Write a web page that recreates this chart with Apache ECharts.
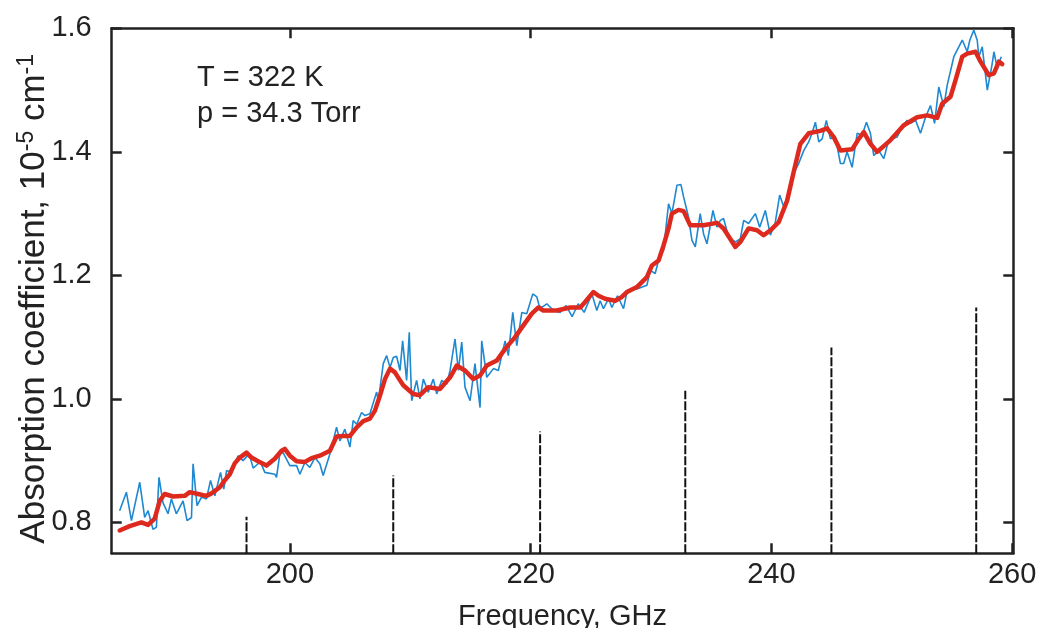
<!DOCTYPE html>
<html><head><meta charset="utf-8">
<script src="https://cdn.jsdelivr.net/npm/echarts@6/dist/echarts.min.js"></script>
<style>html,body{margin:0;padding:0;background:#fff}#c{width:1039px;height:628px}</style>
</head><body><div id="c"></div>
<script>
// Measured spectrum (blue, noisy): [frequency GHz, absorption 1e-5 cm^-1]
const measured = [
[185.86,0.819],[186.42,0.849],[186.84,0.803],[187.53,0.865],[187.94,0.808],[188.22,0.819],[188.63,0.789],[188.91,0.792],
[189.13,0.873],[189.46,0.832],[189.88,0.814],[190.16,0.838],[190.57,0.814],[191.13,0.835],[191.46,0.803],[191.83,0.808],
[191.96,0.895],[192.29,0.827],[192.66,0.841],[193.07,0.838],[193.41,0.868],[193.77,0.843],[194.24,0.881],[194.51,0.854],
[194.74,0.884],[195.15,0.881],[195.70,0.908],[196.11,0.900],[196.62,0.911],[196.95,0.888],[197.36,0.895],[197.51,0.900],
[197.92,0.881],[198.75,0.878],[198.89,0.873],[199.17,0.911],[199.44,0.913],[200.00,0.892],[200.56,0.892],[200.83,0.878],
[201.25,0.897],[201.66,0.889],[202.08,0.905],[202.49,0.895],[202.77,0.876],[203.33,0.911],[203.88,0.954],[204.16,0.932],
[204.57,0.951],[204.99,0.922],[205.26,0.965],[205.55,0.959],[205.96,0.978],[206.24,0.973],[206.65,0.976],[207.21,1.011],
[207.35,0.997],[207.76,1.057],[208.04,1.070],[208.32,1.051],[208.59,1.067],[208.87,1.069],[209.15,1.046],[209.37,1.094],
[209.70,1.030],[209.92,1.108],[210.12,0.997],[210.53,1.030],[210.81,1.000],[211.09,1.032],[211.50,1.011],[211.92,1.032],
[212.20,1.008],[212.62,1.030],[213.03,1.024],[213.31,1.046],[213.72,1.097],[214.00,1.046],[214.28,1.092],[214.55,1.019],
[214.97,0.997],[215.38,1.057],[215.80,0.986],[215.94,1.094],[216.36,1.035],[216.91,1.049],[217.32,1.046],[217.88,1.094],
[218.15,1.070],[218.52,1.140],[218.85,1.086],[219.27,1.140],[219.68,1.138],[220.18,1.170],[220.52,1.165],[220.71,1.151],
[220.93,1.148],[221.35,1.154],[221.90,1.143],[222.45,1.140],[222.95,1.151],[223.45,1.133],[223.95,1.154],[224.45,1.140],
[225.09,1.170],[225.50,1.143],[225.78,1.159],[226.05,1.146],[226.47,1.162],[226.75,1.148],[227.22,1.167],[227.72,1.146],
[228.00,1.173],[228.27,1.176],[228.83,1.178],[229.66,1.184],[229.94,1.208],[230.35,1.203],[230.77,1.235],[231.04,1.240],
[231.46,1.316],[231.74,1.300],[232.16,1.346],[232.49,1.347],[232.71,1.327],[233.12,1.294],[233.40,1.257],[233.68,1.246],
[234.09,1.300],[234.37,1.267],[234.65,1.251],[235.15,1.305],[235.48,1.278],[235.76,1.289],[236.03,1.292],[236.45,1.262],
[237.01,1.254],[237.42,1.259],[237.70,1.289],[238.11,1.284],[238.67,1.300],[239.03,1.278],[239.50,1.305],[239.92,1.265],
[240.33,1.286],[240.69,1.330],[241.03,1.311],[241.44,1.332],[241.85,1.365],[242.27,1.381],[242.69,1.402],[243.10,1.416],
[243.38,1.430],[243.66,1.448],[243.94,1.416],[244.22,1.421],[244.57,1.451],[244.91,1.421],[245.32,1.424],[245.74,1.381],
[246.01,1.381],[246.29,1.400],[246.71,1.375],[247.13,1.430],[247.54,1.427],[247.90,1.448],[248.23,1.430],[248.51,1.394],
[248.92,1.402],[249.34,1.389],[249.75,1.419],[250.45,1.424],[250.87,1.440],[251.28,1.451],[251.56,1.446],[251.98,1.451],
[252.39,1.430],[252.81,1.456],[253.22,1.475],[253.56,1.446],[253.91,1.505],[254.33,1.473],[254.61,1.508],[255.16,1.554],
[255.86,1.581],[256.27,1.562],[256.49,1.581],[256.82,1.597],[257.10,1.581],[257.24,1.554],[257.52,1.570],[257.94,1.500],
[258.35,1.543],[258.49,1.562],[258.77,1.535],[259.10,1.554]
];
// Smoothed spectrum (red)
const smoothed = [
[185.86,0.787],[186.69,0.794],[187.67,0.800],[188.22,0.796],[188.77,0.806],[189.19,0.835],[189.60,0.846],[190.30,0.842],
[191.27,0.843],[191.68,0.849],[192.37,0.846],[193.07,0.843],[193.49,0.847],[194.18,0.857],[194.59,0.868],[195.01,0.878],
[195.43,0.896],[195.84,0.905],[196.40,0.913],[196.81,0.905],[197.36,0.899],[198.06,0.892],[198.75,0.903],[199.31,0.916],
[199.58,0.919],[200.00,0.908],[200.56,0.899],[201.25,0.898],[201.80,0.904],[202.49,0.908],[203.33,0.916],[203.88,0.939],
[204.43,0.940],[204.99,0.940],[205.55,0.954],[206.10,0.964],[206.65,0.968],[207.07,0.981],[207.48,1.005],[207.90,1.032],
[208.32,1.049],[208.73,1.043],[209.15,1.030],[209.42,1.022],[210.25,1.008],[210.81,1.006],[211.50,1.019],[212.47,1.016],
[213.31,1.035],[213.86,1.054],[214.55,1.046],[215.24,1.032],[215.80,1.038],[216.36,1.054],[217.19,1.062],[217.88,1.081],
[218.71,1.100],[219.40,1.119],[220.10,1.138],[220.65,1.148],[221.06,1.143],[222.18,1.143],[223.28,1.148],[224.12,1.148],
[224.53,1.157],[225.22,1.173],[225.64,1.167],[226.19,1.162],[227.03,1.159],[227.58,1.165],[228.00,1.173],[228.83,1.181],
[229.66,1.197],[230.08,1.216],[230.63,1.224],[231.04,1.248],[231.46,1.276],[231.74,1.300],[232.29,1.306],[232.71,1.304],
[233.26,1.281],[234.37,1.281],[235.48,1.285],[236.03,1.276],[236.59,1.259],[237.01,1.246],[237.42,1.254],[238.11,1.276],
[238.81,1.273],[239.36,1.265],[239.92,1.273],[240.61,1.286],[241.31,1.321],[241.85,1.367],[242.41,1.413],[243.10,1.430],
[244.07,1.434],[244.63,1.438],[245.18,1.424],[245.74,1.402],[246.71,1.404],[247.26,1.421],[247.68,1.432],[248.23,1.413],
[248.79,1.400],[249.90,1.419],[251.00,1.443],[252.11,1.456],[252.95,1.459],[253.78,1.455],[254.19,1.478],[254.88,1.489],
[255.30,1.516],[255.86,1.554],[256.27,1.559],[256.96,1.562],[257.38,1.546],[258.07,1.524],[258.49,1.527],[258.90,1.546],
[259.18,1.542]
];
// Line positions (dashed sticks) and their relative heights
const lineFreqs = [196.40, 208.59, 220.79, 232.85, 244.99, 257.02];
const lineHeights = [0.809, 0.876, 0.947, 1.013, 1.083, 1.148];
const xTicks = [200, 220, 240, 260];
const yTicks = [0.8, 1.0, 1.2, 1.4, 1.6];
const xMin = 185.2, xMax = 260.1, yMin = 0.75, yMax = 1.6;

const FONT = 'Liberation Sans, Arial, sans-serif';
const TXT = '#222';
const AX = '#222';

const chart = echarts.init(document.getElementById('c'), null, {renderer: 'canvas'});

const stickSeries = lineFreqs.map((f, i) => ({
  type: 'line', xAxisIndex: 0, yAxisIndex: 0, silent: true, symbol: 'none',
  data: [[f, yMin], [f, lineHeights[i]]],
  lineStyle: {color: '#111', width: 2, type: [9, 2]}, z: 2
}));

chart.setOption({
  animation: false,
  backgroundColor: '#fff',
  grid: {left: 111.7, right: 25.7, top: 28.3, bottom: 74.7, containLabel: false, outerBoundsMode: 'none'},
  xAxis: [{
    type: 'value', min: xMin, max: xMax, position: 'bottom',
    name: 'Frequency, GHz', nameLocation: 'middle', nameGap: 49, nameMoveOverlap: false,
    nameTextStyle: {fontFamily: FONT, fontSize: 29, color: TXT},
    axisLine: {show: true, onZero: false, lineStyle: {color: AX, width: 2.5}},
    axisTick: {show: true, inside: true, length: 10, customValues: xTicks, lineStyle: {color: AX, width: 2.5}},
    axisLabel: {show: true, customValues: xTicks, margin: 7, fontFamily: FONT, fontSize: 29, color: TXT, formatter: v => String(v)},
    splitLine: {show: false}
  }, {
    type: 'value', min: xMin, max: xMax, position: 'top',
    axisLine: {show: true, onZero: false, lineStyle: {color: AX, width: 2.5}},
    axisTick: {show: true, inside: true, length: 10, customValues: xTicks, lineStyle: {color: AX, width: 2.5}},
    axisLabel: {show: false}, splitLine: {show: false}
  }],
  yAxis: [{
    type: 'value', min: yMin, max: yMax, position: 'left',
    name: '{a|Absorption coefficient, 10}{s|-5}{a| cm}{s|-1}', nameLocation: 'middle', nameGap: 57, nameRotate: 90,
    nameMoveOverlap: false,
    nameTextStyle: {fontFamily: FONT, color: TXT, padding: [0, 16, 0, 0], rich: {
      a: {fontFamily: FONT, fontSize: 35, color: TXT, lineHeight: 40},
      s: {fontFamily: FONT, fontSize: 23, color: TXT, lineHeight: 26, verticalAlign: 'top'}
    }},
    axisLine: {show: true, onZero: false, lineStyle: {color: AX, width: 2.5}},
    axisTick: {show: true, inside: true, length: 10, customValues: yTicks, lineStyle: {color: AX, width: 2.5}},
    axisLabel: {show: true, customValues: yTicks, margin: 20, fontFamily: FONT, fontSize: 29, color: TXT, formatter: v => v.toFixed(1)},
    splitLine: {show: false}
  }, {
    type: 'value', min: yMin, max: yMax, position: 'right',
    axisLine: {show: true, onZero: false, lineStyle: {color: AX, width: 2.5}},
    axisTick: {show: true, inside: true, length: 10, customValues: yTicks, lineStyle: {color: AX, width: 2.5}},
    axisLabel: {show: false}, splitLine: {show: false}
  }],
  graphic: [
    {type: 'text', left: 197, top: 63, style: {text: 'T = 322 K', font: '29px ' + FONT, fill: TXT}},
    {type: 'text', left: 197, top: 99, style: {text: 'p = 34.3 Torr', font: '29px ' + FONT, fill: TXT}}
  ],
  series: [
    ...stickSeries,
    {type: 'line', xAxisIndex: 0, yAxisIndex: 0, symbol: 'none', silent: true, data: measured,
     lineStyle: {color: '#1e88d0', width: 1.6}, z: 3},
    {type: 'line', xAxisIndex: 0, yAxisIndex: 0, symbol: 'none', silent: true, data: smoothed,
     lineStyle: {color: '#de2a1e', width: 4.5, join: 'round', cap: 'round'}, z: 4}
  ]
});
</script></body></html>
